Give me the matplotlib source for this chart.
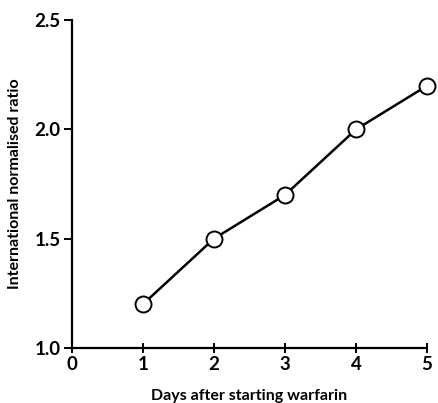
import matplotlib
matplotlib.use('Agg')
import matplotlib.pyplot as plt

# datos
days = [1, 2, 3, 4, 5]
inr = [1.2, 1.5, 1.7, 2.0, 2.2]
xticks = [0, 1, 2, 3, 4, 5]
yticks = [1.0, 1.5, 2.0, 2.5]

plt.rcParams['font.family'] = ['Lato', 'DejaVu Sans']

fig = plt.figure(figsize=(4.38, 4.03), dpi=100)
ax = fig.add_axes([0.164, 0.1365, 0.811, 0.8135])

ax.plot(days, inr, color='black', lw=1.8, marker='o', ms=11.5,
        markerfacecolor='white', markeredgecolor='black', markeredgewidth=1.4,
        clip_on=False, zorder=3)

ax.set_xlim(0, 5)
ax.set_ylim(1.0, 2.5)
ax.set_xticks(xticks)
ax.set_xticklabels([str(t) for t in xticks])
ax.set_yticks(yticks)
ax.set_yticklabels(['%.1f' % t for t in yticks])

ax.spines['top'].set_visible(False)
ax.spines['right'].set_visible(False)
ax.spines['left'].set_linewidth(1.6)
ax.spines['bottom'].set_linewidth(1.6)

ax.tick_params(axis='y', direction='out', length=6, width=1.4, labelsize=13.5, pad=2)
ax.tick_params(axis='x', direction='inout', length=7, width=1.4, labelsize=13.5, pad=2)
for lab in ax.get_xticklabels() + ax.get_yticklabels():
    lab.set_fontweight('bold')

ax.set_xlabel('Days after starting warfarin', fontsize=11.5, fontweight='bold', labelpad=12)
ax.set_ylabel('International normalised ratio', fontsize=11.5, fontweight='bold', labelpad=9)

fig.savefig('out.png', dpi=100)
